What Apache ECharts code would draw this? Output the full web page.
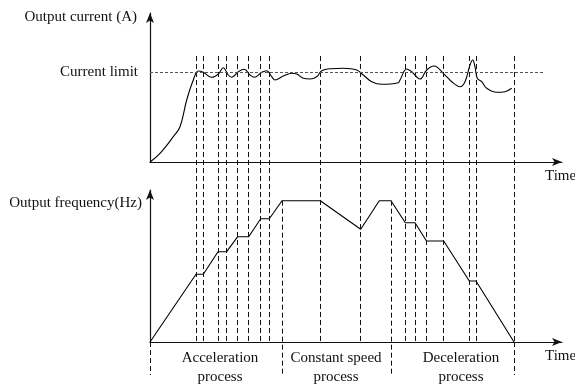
<!DOCTYPE html>
<html>
<head>
<meta charset="utf-8">
<script src="https://cdn.jsdelivr.net/npm/echarts@6/dist/echarts.min.js"></script>
<style>
html,body{margin:0;padding:0;background:#fff;}
#chart{width:575px;height:387px;}
</style>
</head>
<body>
<div id="chart"></div>
<script>
// ---- Data (arbitrary time units on a shared time axis) ----
const timeMax = 412;

// Output current curve: time, current (arbitrary units)
const currentTime = [0, 10, 23.3, 30, 36.7, 43.3, 48.3, 53.3, 61.7, 68.3, 73.3, 78.3, 81.7, 88.3, 94.3, 100, 104.3, 111.7, 116.7, 121.7, 125, 133.3, 141.7, 146.7, 153.3, 160, 166.7, 171.7, 180, 193.3, 206.7, 213.3, 221.7, 231.7, 248.3, 250, 256.7, 261.7, 270, 276.7, 284, 293.3, 301.7, 310, 315, 320, 322.7, 325, 327.3, 331.7, 336.7, 346.7, 355, 361.7];
const currentValue = [0, 8.7, 25.3, 35.3, 62, 82, 91, 89.7, 84.7, 88, 94.3, 87, 84.7, 90.3, 92.7, 87, 84.7, 89.7, 91.3, 85.3, 82, 86, 88.7, 88, 83.7, 83, 85.3, 91.3, 93.3, 93.7, 92, 87, 80.3, 77.7, 79.3, 82, 93, 90.3, 83, 92, 96, 88.7, 80.3, 75.3, 80.3, 97, 102, 95.3, 83.7, 80.3, 73.7, 69.7, 70.3, 73.7];
const currentMax = 149;
const currentLimit = 90;
const currentLimitEnd = 395;

// Output frequency profile: time, frequency (arbitrary units)
const freqTime = [0, 46, 53.3, 68, 76.7, 87.7, 98.7, 110.7, 119.3, 132, 170.3, 210.7, 229.3, 241, 255.3, 265, 276.5, 293.7, 319.3, 326, 364];
const freqValue = [0, 67.7, 67.7, 90.3, 90.3, 105.3, 105.3, 123.3, 123.3, 141.3, 141.3, 112.7, 141.3, 141.3, 119.3, 119.3, 101, 101, 61, 61, 0];
const freqMax = 152;

// Event instants (vertical dashed lines spanning both panels)
const eventTimes = [46, 53.3, 68, 76.7, 87.7, 98.7, 110.7, 119.3, 170.3, 210.7, 255.3, 265, 276.5, 293.7, 319.3, 326, 364];
// Process boundaries (dashed lines below the time axis)
const boundaryTimes = [0, 132, 241, 364];

// Text
const labels = {
  currentAxis: 'Output current (A)',
  freqAxis: 'Output frequency(Hz)',
  limit: 'Current limit',
  time: 'Time',
  processes: ['Acceleration\nprocess', 'Constant speed\nprocess', 'Deceleration\nprocess'],
  processTimes: [70, 186, 311]
};

// ---- Build ----
const FONT = '"Liberation Serif", "Times New Roman", serif';
const zip = (a, b) => a.map((v, i) => [v, b[i]]);

// overlay y-range helpers (layout of the dashed guides, in overlay units)
const OV = {max: 365, eventTop: 322, freqAxis: 36, plateauTop: 177.3, sepBottom: 3, startTop: 36};

const ovLines = [];
eventTimes.forEach(t => {
  ovLines.push([{coord: [t, OV.eventTop]}, {coord: [t, OV.freqAxis]}]);
});
boundaryTimes.forEach((t, i) => {
  let top;
  if (i === 0) top = OV.startTop;
  else if (eventTimes.indexOf(t) >= 0) top = OV.freqAxis;
  else top = OV.plateauTop;
  ovLines.push([{coord: [t, top]}, {coord: [t, OV.sepBottom]}]);
});

const axisLineStyle = {color: '#111', width: 1.2};
function xAx(gi, showLine) {
  return {
    type: 'value', gridIndex: gi, min: 0, max: timeMax,
    axisLine: {show: showLine, onZero: true, symbol: ['none', 'arrow'], symbolSize: [6, 10], lineStyle: axisLineStyle},
    axisTick: {show: false}, axisLabel: {show: false}, splitLine: {show: false}
  };
}
function yAx(gi, max, showLine) {
  return {
    type: 'value', gridIndex: gi, min: 0, max: max,
    axisLine: {show: showLine, symbol: ['none', 'arrow'], symbolSize: [6, 10], lineStyle: axisLineStyle},
    axisTick: {show: false}, axisLabel: {show: false}, splitLine: {show: false}
  };
}

const chart = echarts.init(document.getElementById('chart'), null, {renderer: 'canvas'});

const processGraphics = labels.processes.map((txt, i) => ({
  type: 'text',
  x: 150 + labels.processTimes[i] * 412 / timeMax,
  y: 368,
  style: {text: txt, font: '15px ' + FONT, fill: '#111', align: 'center', verticalAlign: 'middle', lineHeight: 19}
}));

chart.setOption({
  animation: false,
  backgroundColor: '#fff',
  grid: [
    {left: 150, right: 13, top: 13, height: 149},
    {left: 150, right: 13, top: 190, height: 152},
    {left: 150, right: 13, top: 13, height: 365}
  ],
  xAxis: [xAx(0, true), xAx(1, true), xAx(2, false)],
  yAxis: [yAx(0, currentMax, true), yAx(1, freqMax, true), yAx(2, OV.max, false)],
  series: [
    {
      type: 'line', xAxisIndex: 2, yAxisIndex: 2, data: [], silent: true,
      markLine: {
        silent: true, symbol: ['none', 'none'], label: {show: false},
        lineStyle: {color: '#111', width: 1, type: [5, 3]},
        emphasis: {disabled: true},
        data: ovLines
      }
    },
    {
      type: 'line', xAxisIndex: 0, yAxisIndex: 0, smooth: 0.4, showSymbol: false, silent: true,
      lineStyle: {color: '#000', width: 1.1},
      data: zip(currentTime, currentValue),
      markLine: {
        silent: true, symbol: ['none', 'none'],
        lineStyle: {color: '#555', width: 1, type: [3, 2]},
        emphasis: {disabled: true},
        label: {show: true, position: 'start', distance: 12, formatter: labels.limit, fontSize: 15, fontFamily: FONT, color: '#111'},
        data: [[{coord: [0, currentLimit]}, {coord: [currentLimitEnd, currentLimit]}]]
      }
    },
    {
      type: 'line', xAxisIndex: 1, yAxisIndex: 1, showSymbol: false, silent: true,
      lineStyle: {color: '#000', width: 1.1},
      data: zip(freqTime, freqValue)
    }
  ],
  graphic: [
    {type: 'text', x: 137, y: 17, style: {text: labels.currentAxis, font: '15px ' + FONT, fill: '#111', align: 'right', verticalAlign: 'middle'}},
    {type: 'text', x: 142, y: 203, style: {text: labels.freqAxis, font: '15px ' + FONT, fill: '#111', align: 'right', verticalAlign: 'middle'}},
    {type: 'text', x: 545, y: 176, style: {text: labels.time, font: '15px ' + FONT, fill: '#111', align: 'left', verticalAlign: 'middle'}},
    {type: 'text', x: 545, y: 356, style: {text: labels.time, font: '15px ' + FONT, fill: '#111', align: 'left', verticalAlign: 'middle'}}
  ].concat(processGraphics)
});
</script>
</body>
</html>
